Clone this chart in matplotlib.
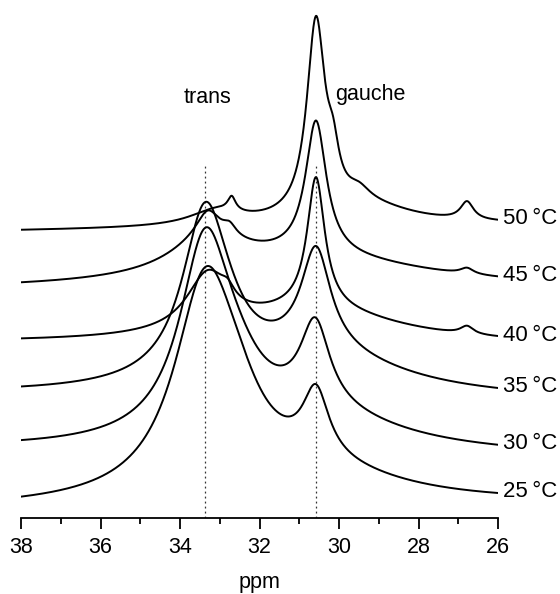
"""Stacked 13C NMR spectra, 25-50 °C, trans / gauche region."""

import numpy as np
import matplotlib
matplotlib.use("Agg")
from matplotlib import pyplot as plt
from matplotlib.ticker import MultipleLocator

plt.rcParams["font.family"] = ["Liberation Sans", "DejaVu Sans"]

# --- Data ---
TEMPS = [25, 30, 35, 40, 45, 50]
LABELS = ["25\u2009°C", "30\u2009°C", "35\u2009°C", "40\u2009°C", "45\u2009°C", "50\u2009°C"]
BASE_LEFT = [9, 68, 123, 175, 228, 287]     # baseline at 38 ppm
BASE_RIGHT = [14, 62, 118, 173, 229, 293]   # baseline at 26 ppm

# peak table: one row per Lorentzian line
PEAK_TEMP = [25, 25, 25, 25,
             30, 30, 30, 30,
             35, 35, 35, 35,
             40, 40, 40, 40, 40,
             45, 45, 45, 45, 45, 45,
             50, 50, 50, 50, 50, 50, 50]
PEAK_PPM = [33.37, 32.60, 30.58, 30.58,
            33.37, 32.60, 30.60, 30.60,
            33.37, 32.80, 30.58, 30.58,
            33.30, 32.80, 30.58, 30.58, 26.78,
            33.30, 33.30, 32.75, 30.58, 30.58, 26.78,
            33.10, 32.70, 30.58, 30.15, 29.30, 29.50, 26.78]
PEAK_HEIGHT = [203, 40, 66, 28,
               188, 33, 83, 34,
               165, 15, 100, 41,
               56, 10, 131, 33, 8,
               25, 33, 10, 134, 29, 6,
               15, 14, 193, 36, 18, 12, 18]
PEAK_HWHM = [0.95, 0.90, 0.40, 2.5,
             0.78, 0.90, 0.45, 2.5,
             0.70, 0.70, 0.45, 2.5,
             0.65, 0.20, 0.27, 2.5, 0.20,
             0.35, 1.20, 0.20, 0.32, 3.5, 0.20,
             0.80, 0.12, 0.28, 0.18, 1.5, 0.35, 0.20]

TRANS_PPM, GAUCHE_PPM = 33.37, 30.57
X_MIN, X_MAX = 26, 38


def spectrum(ppm, temp, b_left, b_right):
    y = b_left + (b_right - b_left) * (X_MAX - ppm) / (X_MAX - X_MIN)
    for t, x0, h, w in zip(PEAK_TEMP, PEAK_PPM, PEAK_HEIGHT, PEAK_HWHM):
        if t == temp:
            y = y + h / (1 + ((ppm - x0) / w) ** 2)
    return y


fig = plt.figure(figsize=(5.6, 5.94), dpi=100)
ax = fig.add_axes([0.0375, 0.128, 0.8518, 0.872])

ppm = np.linspace(X_MAX, X_MIN, 1500)
for temp, lab, bl, br in zip(TEMPS, LABELS, BASE_LEFT, BASE_RIGHT):
    y = spectrum(ppm, temp, bl, br)
    ax.plot(ppm, y, color="black", lw=1.4, solid_joinstyle="round")
    ax.text(25.88, y[-1] + 1, lab, fontsize=16, ha="left", va="center",
            clip_on=False)

for xv in (TRANS_PPM, GAUCHE_PPM):
    ax.plot([xv, xv], [0, 352], color="0.2", lw=0.9, ls=(0, (1.5, 2.5)),
            zorder=0)

ax.text(33.32, 415, "trans", fontsize=15.5, ha="center", va="baseline")
ax.text(29.2, 418, "gauche", fontsize=15.5, ha="center", va="baseline")

ax.set_xlim(X_MAX, X_MIN)
ax.set_ylim(0, 518)
for side in ("left", "right", "top"):
    ax.spines[side].set_visible(False)
ax.spines["bottom"].set_linewidth(1.3)
ax.set_yticks([])
ax.xaxis.set_major_locator(MultipleLocator(2))
ax.xaxis.set_minor_locator(MultipleLocator(1))
ax.tick_params(axis="x", which="major", direction="out", length=8, width=1.3,
               labelsize=15.5, pad=6)
ax.tick_params(axis="x", which="minor", direction="out", length=4.5, width=1.3)
ax.set_xlabel("ppm", fontsize=15.5, labelpad=10)

fig.savefig("out.png", dpi=100)
